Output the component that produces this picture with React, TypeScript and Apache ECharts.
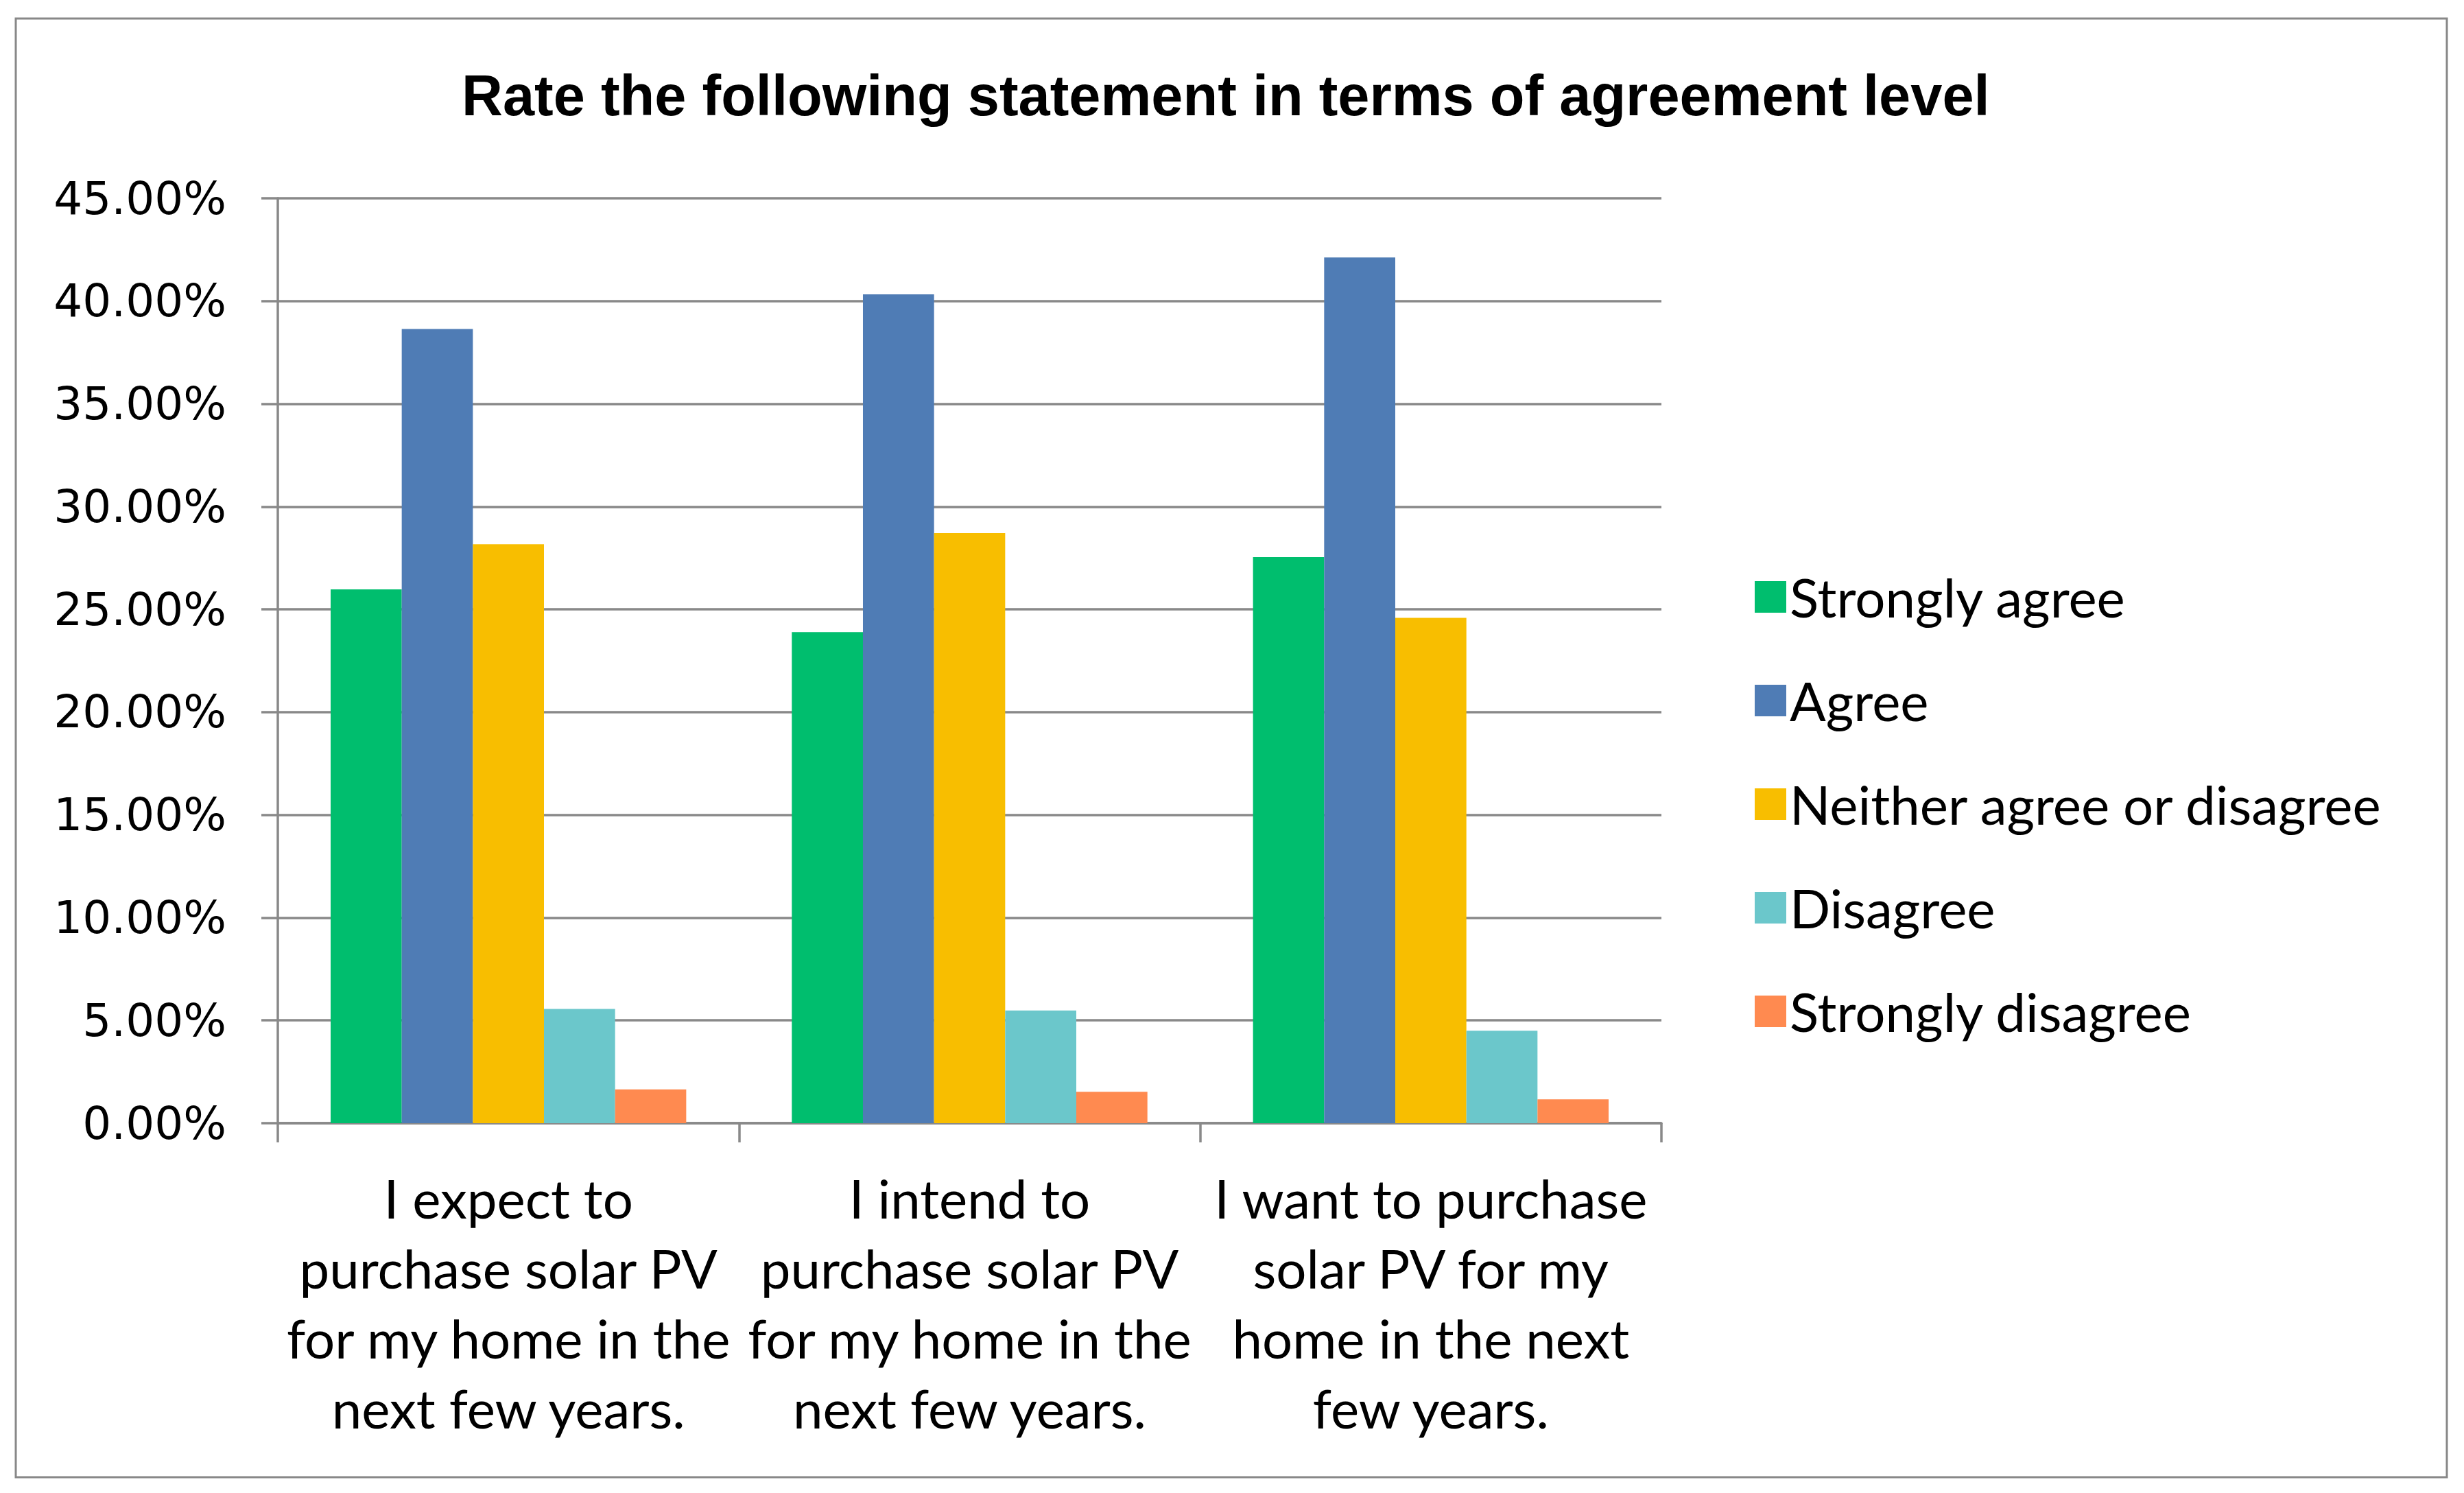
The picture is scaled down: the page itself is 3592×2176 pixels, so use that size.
import React, { useEffect, useRef } from "react";
import * as echarts from "echarts";

const titleText = "Rate the following statement in terms of agreement level";
const categories = [
  "I expect to\npurchase solar PV\nfor my home in the\nnext few years.",
  "I intend to\npurchase solar PV\nfor my home in the\nnext few years.",
  "I want to purchase\nsolar PV for my\nhome in the next\nfew years.",
];
const seriesNames = [
  "Strongly agree",
  "Agree",
  "Neither agree or disagree",
  "Disagree",
  "Strongly disagree",
];
const stronglyAgree = [25.97, 23.89, 27.54];
const agree = [38.64, 40.33, 42.12];
const neither = [28.17, 28.71, 24.59];
const disagree = [5.56, 5.48, 4.5];
const stronglyDisagree = [1.64, 1.53, 1.16];
const seriesColors = ["#00BE6E", "#4F7CB5", "#F8BE00", "#6BC7CB", "#FF8A50"];
const yTicks = { min: 0, max: 45, interval: 5 };

export default function App() {
  const ref = useRef<HTMLDivElement>(null);
  useEffect(() => {
    document.body.style.margin = "0";
    if (!ref.current) return;
    const chart = echarts.init(ref.current, null, { renderer: "svg" });
    const values = [stronglyAgree, agree, neither, disagree, stronglyDisagree];
    const gray = "#898989";
    chart.setOption({
      animation: false,
      backgroundColor: "#ffffff",
      title: {
        text: titleText,
        left: 668,
        top: 93,
        textStyle: {
          fontFamily: "Liberation Sans",
          fontWeight: "bold",
          fontSize: 83,
          color: "#000",
        },
      },
      graphic: [
        {
          type: "rect",
          shape: { x: 23, y: 27, width: 3544, height: 2126 },
          style: { fill: "none", stroke: "#888888", lineWidth: 3 },
          silent: true,
        },
      ],
      legend: {
        orient: "vertical",
        left: 2553,
        top: 826,
        itemWidth: 46,
        itemHeight: 46,
        itemGap: 73,
        itemTextGap: 38,
        icon: "rect",
        textStyle: {
          fontFamily: "Lato",
          fontSize: 78,
          lineHeight: 60,
          color: "#000",
        },
        data: seriesNames,
      },
      grid: { left: 405, right: 1170, top: 289, bottom: 539, containLabel: false },
      xAxis: {
        type: "category",
        data: categories,
        axisLine: { show: true, lineStyle: { color: gray, width: 3.5 } },
        axisTick: { show: true, length: 28, lineStyle: { color: gray, width: 3.5 } },
        axisLabel: {
          interval: 0,
          margin: 58,
          fontFamily: "Lato",
          fontSize: 78,
          lineHeight: 102,
          color: "#000",
          align: "center",
        },
      },
      yAxis: {
        type: "value",
        min: yTicks.min,
        max: yTicks.max,
        interval: yTicks.interval,
        axisLine: { show: true, lineStyle: { color: gray, width: 3.5 } },
        axisTick: { show: true, length: 24, lineStyle: { color: gray, width: 3.5 } },
        splitLine: { show: true, lineStyle: { color: gray, width: 3.5 } },
        axisLabel: {
          margin: 75,
          fontFamily: "DejaVu Sans",
          fontSize: 66,
          color: "#000",
          formatter: (v: number) => v.toFixed(2) + "%",
        },
      },
      series: seriesNames.map((name, i) => ({
        name,
        type: "bar",
        data: values[i],
        barGap: "0%",
        barCategoryGap: "22.9%",
        itemStyle: { color: seriesColors[i] },
      })),
    });
    return () => chart.dispose();
  }, []);
  return <div ref={ref} style={{ width: 3592, height: 2176 }} />;
}
